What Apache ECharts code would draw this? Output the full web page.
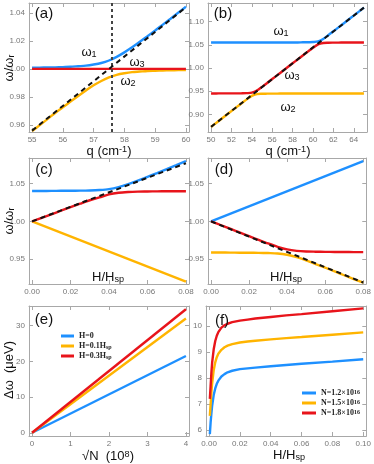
<!DOCTYPE html>
<html>
<head>
<meta charset="utf-8">
<script src="https://cdn.jsdelivr.net/npm/echarts@6/dist/echarts.min.js"></script>
<style>
html, body { margin: 0; padding: 0; background: #fff; }
#chart { width: 374px; height: 464px; }
</style>
</head>
<body>
<div id="chart"></div>
<script>
// (a) single crossing, q sweep
const qA = [55, 55.25, 55.5, 55.75, 56, 56.25, 56.5, 56.75, 57, 57.25, 57.5, 57.75, 58, 58.25, 58.5, 58.75, 59, 59.25, 59.5, 59.75, 60]
const aW1 = [1.0008, 1.0009, 1.001, 1.0011, 1.0013, 1.0015, 1.0019, 1.0023, 1.0031, 1.0042, 1.006, 1.0086, 1.0118, 1.0154, 1.0193, 1.0233, 1.0274, 1.0316, 1.0358, 1.0401, 1.0443]
const aW2 = [0.9557, 0.9599, 0.9642, 0.9686, 0.9726, 0.9767, 0.9807, 0.9846, 0.9883, 0.9914, 0.994, 0.9958, 0.9969, 0.9977, 0.9981, 0.9985, 0.9987, 0.9989, 0.999, 0.9991, 0.9992]
const qA3 = [55, 60]
const aW3 = [1.0, 1.0]
const aDash = [0.956, 1.044]
const qCross = 57.6

// (b) two crossings
const qB = [50, 50.5, 51, 51.5, 52, 52.5, 53, 53.5, 54, 54.5, 55, 55.5, 56, 56.5, 57, 57.5, 58, 58.5, 59, 59.5, 60, 60.5, 61, 61.5, 62, 62.5, 63, 63.5, 64, 64.5, 65]
const bW1 = [1.055, 1.055, 1.055, 1.055, 1.055, 1.055, 1.055, 1.055, 1.055, 1.055, 1.055, 1.055, 1.055, 1.055, 1.055, 1.055, 1.055, 1.055, 1.0553, 1.0555, 1.0558, 1.0571, 1.0626, 1.0706, 1.079, 1.0874, 1.0959, 1.1044, 1.1129, 1.1214, 1.13]
const bW3 = [0.9451, 0.9451, 0.9452, 0.9452, 0.9452, 0.9453, 0.9454, 0.9457, 0.9467, 0.9515, 0.9593, 0.9676, 0.9761, 0.9845, 0.993, 1.0015, 1.01, 1.0184, 1.0269, 1.0353, 1.0435, 1.0508, 1.0538, 1.0544, 1.0546, 1.0547, 1.0548, 1.0549, 1.055, 1.055, 1.055]
const bW2 = [0.8729, 0.8815, 0.8899, 0.8985, 0.9071, 0.9155, 0.924, 0.9323, 0.9398, 0.9436, 0.9444, 0.9446, 0.9447, 0.9448, 0.9449, 0.9449, 0.945, 0.945, 0.945, 0.945, 0.945, 0.945, 0.945, 0.945, 0.945, 0.945, 0.945, 0.945, 0.945, 0.945, 0.945]
const qBLine = [50, 65]
const bDash = [0.873, 1.13]

// (c), (d) field sweep
const hX = [0, 0.005, 0.01, 0.015, 0.02, 0.025, 0.03, 0.035, 0.04, 0.045, 0.05, 0.055, 0.06, 0.065, 0.07, 0.075, 0.08]
const cBlue = [1.0403, 1.0403, 1.0404, 1.0405, 1.0406, 1.0407, 1.041, 1.0416, 1.0428, 1.0455, 1.0494, 1.054, 1.059, 1.064, 1.0692, 1.0745, 1.08]
const cRed = [1.0, 1.0047, 1.0094, 1.0141, 1.0188, 1.0235, 1.028, 1.0317, 1.0357, 1.0379, 1.0389, 1.0394, 1.0396, 1.0398, 1.0399, 1.04, 1.04]
const dRed = [1.0, 0.9952, 0.9903, 0.9853, 0.9804, 0.9755, 0.9707, 0.9663, 0.9628, 0.9609, 0.9601, 0.9598, 0.9596, 0.9595, 0.9594, 0.9593, 0.9593]
const dYellow = [0.9587, 0.9587, 0.9586, 0.9585, 0.9584, 0.9583, 0.958, 0.9575, 0.9557, 0.9525, 0.9483, 0.9435, 0.9387, 0.9337, 0.9286, 0.9236, 0.9187]
const hLine = [0, 0.08]
const cYellow = [1.0, 0.92]
const dBlue = [1.0, 1.08]
const cDash = [1.0, 1.077]
const dDash = [1.0, 0.919]

// (e) splitting vs sqrt(N)
const nX = [0, 4]
const eBlue = [0, 21.5]
const eYellow = [0, 32]
const eRed = [0, 34.6]

// (f) splitting vs field
const fX = [0.0005, 0.001, 0.0015, 0.002, 0.003, 0.004, 0.005, 0.006, 0.008, 0.01, 0.012, 0.015, 0.02, 0.025, 0.03, 0.04, 0.05, 0.06, 0.08, 0.1]
const fBlue = [5.85, 6.3, 6.65, 6.95, 7.35, 7.6, 7.78, 7.9, 8.06, 8.15, 8.22, 8.28, 8.34, 8.37, 8.4, 8.45, 8.5, 8.55, 8.63, 8.72]
const fYellow = [6.55, 7.0, 7.45, 7.8, 8.3, 8.6, 8.8, 8.93, 9.08, 9.18, 9.24, 9.3, 9.36, 9.4, 9.43, 9.48, 9.53, 9.57, 9.66, 9.75]
const fRed = [7.2, 7.7, 8.2, 8.6, 9.1, 9.42, 9.62, 9.76, 9.93, 10.02, 10.08, 10.14, 10.2, 10.24, 10.28, 10.34, 10.4, 10.45, 10.56, 10.67]

// tick labels
const aTicksX = [55, 56, 57, 58, 59, 60]
const aTicksY = [0.96, 0.98, 1.0, 1.02, 1.04]
const bTicksX = [50, 52, 54, 56, 58, 60, 62, 64]
const bTicksY = [0.9, 0.95, 1.0, 1.05, 1.1]
const hTicks = [0, 0.02, 0.04, 0.06, 0.08]
const cdTicksY = [0.95, 1.0, 1.05]
const eTicksX = [0, 1, 2, 3, 4]
const eTicksY = [0, 10, 20, 30]
const fTicksX = [0, 0.02, 0.04, 0.06, 0.08, 0.1]
const fTicksY = [6, 7, 8, 9, 10]

const BLUE = '#1E90FF'
const YEL = '#FFB400'
const RED = '#E8141B'
const FRAME = '#a8a8a8'
const FONT = 'Liberation Sans, Arial, sans-serif'

const grids = [
  { left: 29, top: 3, width: 160, height: 129 },
  { left: 208, top: 3, width: 159, height: 129 },
  { left: 29, top: 158, width: 160, height: 126 },
  { left: 208, top: 158, width: 159, height: 126 },
  { left: 29, top: 306, width: 160, height: 130 },
  { left: 206, top: 306, width: 162, height: 130 },
]

function mkAxes(g, min, max, ticks, dec, dim) {
  const base = {
    type: 'value', gridIndex: g, min: min, max: max,
    splitLine: { show: false },
    axisLine: { show: true, onZero: false, lineStyle: { color: FRAME, width: 1 } },
    axisTick: { show: true, inside: true, length: 4, customValues: ticks, lineStyle: { color: FRAME } },
  }
  const main = Object.assign({}, base, {
    position: dim === 'x' ? 'bottom' : 'left',
    axisLabel: {
      show: true, customValues: ticks, formatter: v => Number(v).toFixed(dec),
      color: '#777', fontSize: 8, margin: 4, fontFamily: FONT,
    },
  })
  const opp = Object.assign({}, base, {
    position: dim === 'x' ? 'top' : 'right',
    axisLabel: { show: false },
  })
  return [main, opp]
}

const xAxes = [].concat(
  mkAxes(0, 54.9, 60.1, aTicksX, 0, 'x'),
  mkAxes(1, 49.7, 65.3, bTicksX, 0, 'x'),
  mkAxes(2, -0.0016, 0.0816, hTicks, 2, 'x'),
  mkAxes(3, -0.0016, 0.0816, hTicks, 2, 'x'),
  mkAxes(4, -0.08, 4.08, eTicksX, 0, 'x'),
  mkAxes(5, -0.002, 0.102, fTicksX, 2, 'x'),
)
const yAxes = [].concat(
  mkAxes(0, 0.955, 1.047, aTicksY, 2, 'y'),
  mkAxes(1, 0.862, 1.14, bTicksY, 2, 'y'),
  mkAxes(2, 0.917, 1.084, cdTicksY, 2, 'y'),
  mkAxes(3, 0.917, 1.084, cdTicksY, 2, 'y'),
  mkAxes(4, -0.9, 35.5, eTicksY, 0, 'y'),
  mkAxes(5, 5.78, 10.76, fTicksY, 0, 'y'),
)

function ln(g, xs, ys, color, extra) {
  return Object.assign({
    type: 'line', xAxisIndex: 2 * g, yAxisIndex: 2 * g,
    data: xs.map((x, i) => [x, ys[i]]),
    showSymbol: false, symbol: 'none', smooth: 0.3,
    lineStyle: { color: color, width: 2.4 }, itemStyle: { color: color },
    silent: true, z: 3,
  }, extra || {})
}
function dash(g, xs, ys) {
  return ln(g, xs, ys, '#111', { smooth: false, lineStyle: { color: '#111', width: 2, type: [5, 4] }, z: 5 })
}

const series = [
  // (a)
  ln(0, qA, aW2, YEL),
  ln(0, qA3, aW3, RED, { z: 4, smooth: false }),
  ln(0, qA, aW1, BLUE),
  dash(0, qA3, aDash),
  ln(0, qA3, aW3, RED, {
    smooth: false, lineStyle: { opacity: 0 }, z: 6,
    markLine: {
      symbol: 'none', silent: true, label: { show: false }, animation: false,
      lineStyle: { color: '#444', type: [3, 3], width: 2 },
      data: [{ xAxis: qCross }],
    },
  }),
  // (b)
  ln(1, qB, bW2, YEL),
  ln(1, qB, bW3, RED),
  ln(1, qB, bW1, BLUE),
  dash(1, qBLine, bDash),
  // (c)
  ln(2, hLine, cYellow, YEL, { smooth: false }),
  ln(2, hX, cRed, RED),
  ln(2, hX, cBlue, BLUE),
  dash(2, hLine, cDash),
  // (d)
  ln(3, hLine, dBlue, BLUE, { smooth: false }),
  ln(3, hX, dYellow, YEL),
  ln(3, hX, dRed, RED),
  dash(3, hLine, dDash),
  // (e)
  ln(4, nX, eBlue, BLUE, { name: 'H=0', smooth: false }),
  ln(4, nX, eYellow, YEL, { name: 'H=0.1H_sp', smooth: false }),
  ln(4, nX, eRed, RED, { name: 'H=0.3H_sp', smooth: false }),
  // (f)
  ln(5, fX, fBlue, BLUE, { name: 'N=1.2×10^16', smooth: false }),
  ln(5, fX, fYellow, YEL, { name: 'N=1.5×10^16', smooth: false }),
  ln(5, fX, fRed, RED, { name: 'N=1.8×10^16', smooth: false }),
]

const legText = {
  fontFamily: 'Liberation Serif, serif', fontWeight: 'bold', fontSize: 8, color: '#222',
  rich: {
    s: { fontFamily: 'Liberation Serif, serif', fontWeight: 'bold', fontSize: 6, color: '#222', verticalAlign: 'bottom', lineHeight: 6 },
    p: { fontFamily: 'Liberation Serif, serif', fontWeight: 'bold', fontSize: 6, color: '#222', verticalAlign: 'top', lineHeight: 6 },
  },
}
const legends = [
  {
    left: 56, top: 327, orient: 'vertical', icon: 'rect', itemWidth: 13, itemHeight: 3, itemGap: 2,
    data: ['H=0', 'H=0.1H_sp', 'H=0.3H_sp'], selectedMode: false, textStyle: legText,
    formatter: n => n.replace('_sp', '{s|sp}'),
  },
  {
    left: 297, top: 384, orient: 'vertical', icon: 'rect', itemWidth: 14, itemHeight: 3, itemGap: 2,
    data: ['N=1.2×10^16', 'N=1.5×10^16', 'N=1.8×10^16'], selectedMode: false, textStyle: legText,
    formatter: n => n.replace('^16', '{p|16}'),
  },
]

function txt(x, y, text, size, extra) {
  const base = size
  return Object.assign({
    type: 'text', x: x, y: y, silent: true, z: 100,
    style: {
      text: text, fill: '#111', fontSize: base, fontFamily: FONT, align: 'center', verticalAlign: 'middle',
      rich: {
        b: { fontSize: base, fontFamily: FONT, fill: '#111' },
        s: { fontSize: base * 0.7, fontFamily: FONT, fill: '#111', verticalAlign: 'bottom', lineHeight: base * 0.7 },
        p: { fontSize: base * 0.7, fontFamily: FONT, fill: '#111', verticalAlign: 'top', lineHeight: base * 0.7 },
      },
    },
  }, extra || {})
}

const graphics = [
  txt(44, 14, '(a)', 15),
  txt(223, 14, '(b)', 15),
  txt(44, 170, '(c)', 15),
  txt(224, 170, '(d)', 15),
  txt(44, 320, '(e)', 15),
  txt(222, 321, '(f)', 15),
  txt(9, 68, '{b|ω/ω}{s|r}', 13, { rotation: Math.PI / 2 }),
  txt(9, 221, '{b|ω/ω}{s|r}', 13, { rotation: Math.PI / 2 }),
  txt(9, 370, '{b|Δω  (μeV)}', 13, { rotation: Math.PI / 2 }),
  txt(109, 151, '{b|q (cm}{p|-1}{b|)}', 13),
  txt(288, 151, '{b|q (cm}{p|-1}{b|)}', 13),
  txt(108, 277, '{b|H/H}{s|sp}', 13),
  txt(286, 277, '{b|H/H}{s|sp}', 13),
  txt(289, 455, '{b|H/H}{s|sp}', 13),
  txt(108, 456, '{b|√N  (10}{p|8}{b|)}', 13),
  txt(89, 52, '{b|ω}{s|1}', 13),
  txt(137, 62, '{b|ω}{s|3}', 13),
  txt(128, 81, '{b|ω}{s|2}', 13),
  txt(281, 31, '{b|ω}{s|1}', 13),
  txt(292, 75, '{b|ω}{s|3}', 13),
  txt(288, 107, '{b|ω}{s|2}', 13),
]

const chart = echarts.init(document.getElementById('chart'), null, { renderer: 'canvas' })
chart.setOption({
  animation: false,
  backgroundColor: '#fff',
  grid: grids,
  xAxis: xAxes,
  yAxis: yAxes,
  legend: legends,
  series: series,
  graphic: graphics,
})
</script>
</body>
</html>
